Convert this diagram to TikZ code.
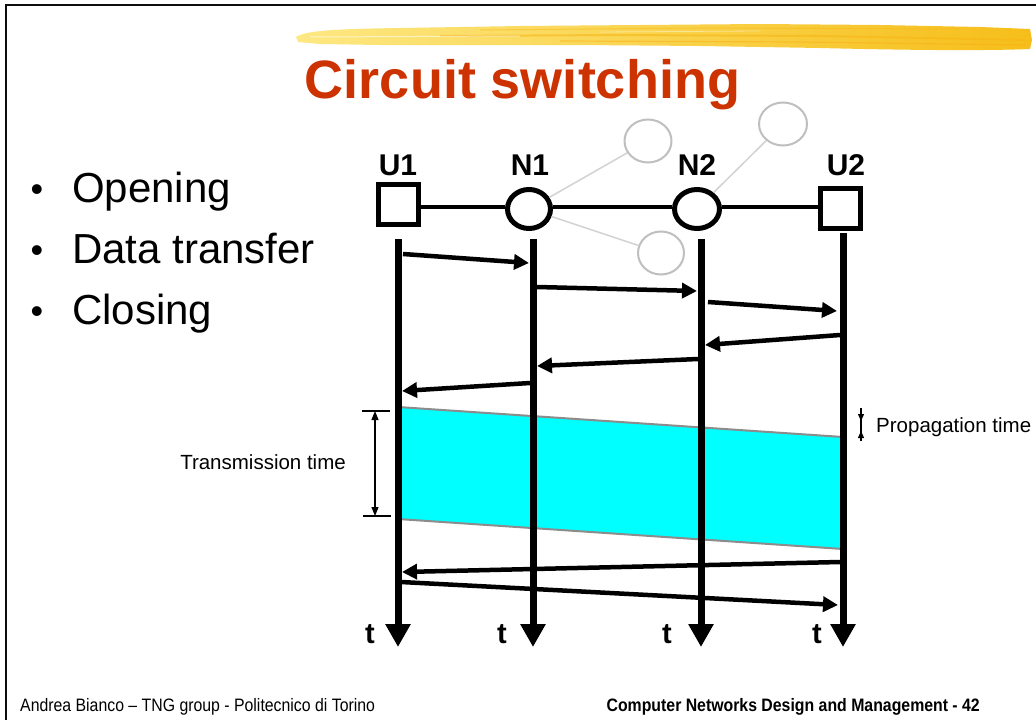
\documentclass[tikz,border=0pt]{standalone}
\usepackage{fontspec}
\setmainfont{Liberation Sans}
\newfontfamily\narrowfont[FakeStretch=0.88]{Liberation Sans}
\usetikzlibrary{arrows.meta,shapes.geometric}
\definecolor{titlered}{RGB}{204,51,0}
\definecolor{lightgray}{RGB}{191,191,191}
\definecolor{linkgray}{RGB}{210,210,210}
\definecolor{bandedge}{RGB}{140,140,140}
\definecolor{bandcyan}{RGB}{0,255,255}
\definecolor{bannerlight}{RGB}{253,232,130}
\definecolor{bannerdark}{RGB}{246,190,25}
\begin{document}
\begin{tikzpicture}[x=1pt,y=-1pt,
  userbox/.style={draw, line width=5pt, rectangle, minimum size=40pt, inner sep=0pt, fill=white},
  netnode/.style={draw, line width=5pt, ellipse, minimum width=43pt, minimum height=39pt, inner sep=0pt, fill=white},
  graynode/.style={draw=lightgray, line width=2pt, ellipse, minimum width=47pt, minimum height=43pt, inner sep=0pt, fill=white},
  graylink/.style={draw=linkgray, line width=1.5pt},
  link/.style={line width=4.5pt},
  nodelabel/.style={font=\fontsize{30}{32}\selectfont\bfseries, anchor=base},
  timeline/.style={line width=7pt, -{Triangle[length=23pt,width=24pt]}},
  msg/.style={line width=4.5pt, -{Triangle[length=15pt,width=15pt]}},
  tlabel/.style={font=\fontsize{29}{30}\selectfont\bfseries, anchor=base},
  bullettext/.style={font=\fontsize{42}{46}\selectfont, anchor=base west, inner sep=0pt},
  bulletdot/.style={font=\fontsize{36}{38}\selectfont, anchor=base, inner sep=0pt},
  dimline/.style={line width=1.2pt},
  smalltext/.style={font=\fontsize{20.5}{22}\selectfont, inner sep=0pt}
]
\useasboundingbox (0,0) rectangle (1036,720);
\fill[white] (0,0) rectangle (1036,720);

% frame
\draw[line width=2.5pt, black!95] (6,720) -- (6,5) -- (1036,5);

% banner (brush stroke)
\shade[left color=bannerlight, right color=bannerdark]
  (296,37) .. controls (305,31) and (330,29) .. (400,28)
  -- (520,26) -- (640,25) -- (760,24) -- (880,25) -- (980,27) -- (1030,29)
  -- (1032,40) -- (1030,49) .. controls (980,51) and (900,50) .. (820,48)
  -- (700,46) -- (580,45) -- (460,45) -- (380,45) -- (320,44) -- (298,42) -- cycle;
\draw[bannerdark!85!orange, line width=2pt, opacity=0.55] (440,36) -- (620,35) -- (820,36) -- (1025,40);
\draw[bannerdark!75!orange, line width=1.2pt, opacity=0.5] (560,41) -- (800,42) -- (1025,45);
\draw[bannerdark!90!orange, line width=1pt, opacity=0.5] (480,30) -- (700,28) -- (960,29);
\draw[white, line width=1pt, opacity=0.55] (310,37) -- (520,36);
\draw[white, line width=0.8pt, opacity=0.4] (600,32) -- (760,31);

% title
\node[font=\fontsize{54}{60}\selectfont\bfseries, text=titlered, anchor=base, inner sep=0pt] (title) at (522.5,98) {Circuit switching};

% bullets
\node[bulletdot] (b1) at (37,201) {•};
\node[bullettext] (t1) at (72,202) {Opening};
\node[bulletdot] (b2) at (37,262) {•};
\node[bullettext] (t2) at (72,263) {Data transfer};
\node[bulletdot] (b3) at (37,323) {•};
\node[bullettext] (t3) at (72,324) {Closing};

% gray extra nodes and links
\node[graynode] (gA) at (648,141) {};
\node[graynode, minimum width=48pt] (gB) at (783,124) {};
\node[graynode, minimum width=46pt] (gC) at (661,253) {};

% main nodes
\node[userbox] (U1) at (398,204) {};
\node[netnode] (N1) at (529,209) {};
\node[netnode, minimum width=45pt] (N2) at (697,209) {};
\node[userbox] (U2) at (840,208) {};

\draw[graylink] (N1) -- (gA);
\draw[graylink] (N2) -- (gB);
\draw[graylink] (N1) -- (gC);

\draw[link] (U1.east |- 0,207) -- (N1.west |- 0,207);
\draw[link] (N1.east |- 0,207) -- (N2.west |- 0,207);
\draw[link] (N2.east |- 0,207) -- (U2.west |- 0,207);

\node[nodelabel] (lU1) at (398,175) {U1};
\node[nodelabel] (lN1) at (530,175) {N1};
\node[nodelabel] (lN2) at (697,175) {N2};
\node[nodelabel] (lU2) at (846,175) {U2};

% data band
\coordinate (bandTL) at (398,407);
\coordinate (bandTR) at (843,437);
\coordinate (bandBR) at (843,549);
\coordinate (bandBL) at (398,519);
\fill[bandcyan] (bandTL) -- (bandTR) -- (bandBR) -- (bandBL) -- cycle;
\draw[bandedge, line width=2pt] (bandTL) -- (bandTR);
\draw[bandedge, line width=2pt] (bandBL) -- (bandBR);

% time lines
\coordinate (U1top) at (398,239); \coordinate (U1bot) at (398,647);
\coordinate (N1top) at (533,239); \coordinate (N1bot) at (533,647);
\coordinate (N2top) at (701,239); \coordinate (N2bot) at (701,647);
\coordinate (U2top) at (843,233); \coordinate (U2bot) at (843,647);
\draw[timeline] (U1top) -- (U1bot);
\draw[timeline] (N1top) -- (N1bot);
\draw[timeline] (N2top) -- (N2bot);
\draw[timeline] (U2top) -- (U2bot);

\node[tlabel] (tU1) at (370,643) {t};
\node[tlabel] (tN1) at (502,643) {t};
\node[tlabel] (tN2) at (667,643) {t};
\node[tlabel] (tU2) at (817,643) {t};

% signalling messages
\coordinate (m1s) at (403,254); \coordinate (m1e) at (529,263);
\coordinate (m2s) at (537,287); \coordinate (m2e) at (697,291);
\coordinate (m3s) at (708,302); \coordinate (m3e) at (837,311);
\coordinate (m4s) at (840,335); \coordinate (m4e) at (705,345);
\coordinate (m5s) at (698,359); \coordinate (m5e) at (537,366);
\coordinate (m6s) at (530,383); \coordinate (m6e) at (402,391);
\coordinate (m7s) at (840,562); \coordinate (m7e) at (402,572);
\coordinate (m8s) at (401,582); \coordinate (m8e) at (838,605);
\draw[msg] (m1s) -- (m1e);
\draw[msg] (m2s) -- (m2e);
\draw[msg] (m3s) -- (m3e);
\draw[msg] (m4s) -- (m4e);
\draw[msg] (m5s) -- (m5e);
\draw[msg] (m6s) -- (m6e);
\draw[msg] (m7s) -- (m7e);
\draw[msg] (m8s) -- (m8e);

% transmission time
\coordinate (ttA) at (375,411); \coordinate (ttB) at (375,516);
\draw[dimline] (362,411) -- (390,411);
\draw[dimline] (363,516) -- (391,516);
\draw[dimline, {Triangle[length=9pt,width=7pt]}-{Triangle[length=9pt,width=7pt]}] (ttA) -- (ttB);
\node[smalltext, anchor=base east] (ttlabel) at (346,469) {Transmission time};

% propagation time
\coordinate (ptA) at (861,408); \coordinate (ptB) at (861,441);
\coordinate (ptA2) at (861,421); \coordinate (ptB2) at (861,431);
\draw[dimline] (ptA) -- (ptB);
\draw[dimline, -{Triangle[length=7pt,width=6pt]}] (ptA) -- (ptA2);
\draw[dimline, -{Triangle[length=7pt,width=6pt]}] (ptB) -- (ptB2);
\node[smalltext, anchor=base west] (ptlabel) at (876,432) {Propagation time};

% footer
\node[font=\narrowfont\fontsize{18}{20}\selectfont, anchor=base west, inner sep=0pt] (foot1) at (20,711) {Andrea Bianco – TNG group - Politecnico di Torino};
\node[font=\narrowfont\fontsize{18}{20}\selectfont\bfseries, anchor=base east, inner sep=0pt] (foot2) at (980,711) {Computer Networks Design and Management - 42};
\end{tikzpicture}
\end{document}
